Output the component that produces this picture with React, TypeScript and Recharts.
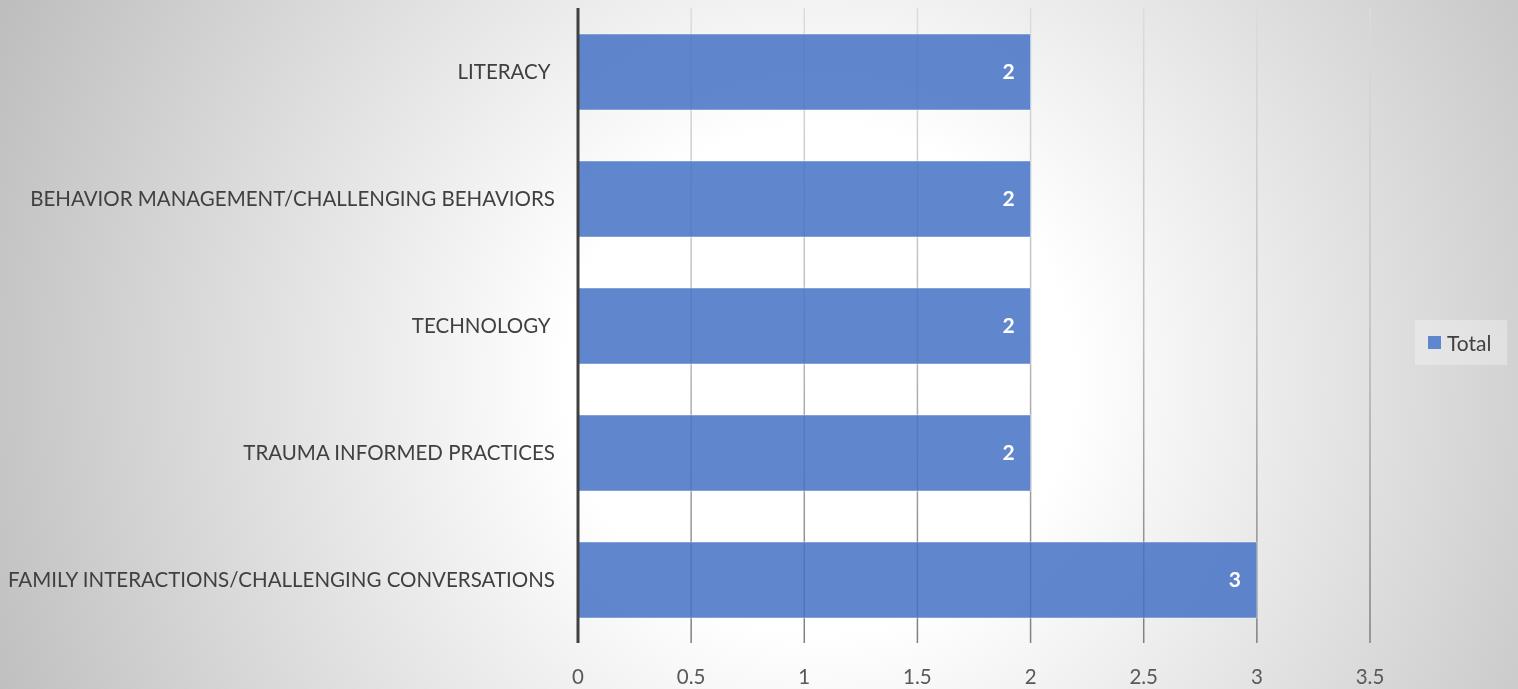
import React from 'react';
import { BarChart, Bar, XAxis, YAxis, CartesianGrid, Legend, LabelList } from 'recharts';

const categories = [
  'LITERACY ',
  'BEHAVIOR MANAGEMENT/CHALLENGING BEHAVIORS',
  'TECHNOLOGY ',
  'TRAUMA INFORMED PRACTICES',
  'FAMILY INTERACTIONS/CHALLENGING CONVERSATIONS',
];
const totals = [2, 2, 2, 2, 3];
const xTicks = [0, 0.5, 1, 1.5, 2, 2.5, 3, 3.5];
const seriesName = 'Total';

const data = categories.map((c, i) => ({ name: c, Total: totals[i] }));

const FONT = 'Lato, "Open Sans", sans-serif';

const YTick = (props: any) => {
  const { x, y, payload } = props;
  return (
    <text x={x} y={y} dy="0.36em" textAnchor="end" fill="#404040" fontSize={20.5} fontFamily={FONT} style={{ whiteSpace: 'pre' }}>
      {payload.value}
    </text>
  );
};

const LegendContent = () => (
  <div
    style={{
      width: 92,
      height: 45,
      background: 'rgba(255,255,255,0.3)',
      display: 'flex',
      alignItems: 'center',
      boxSizing: 'border-box',
      paddingLeft: 13,
      fontFamily: FONT,
      fontSize: 21,
      color: '#404040',
    }}
  >
    <span style={{ display: 'inline-block', width: 13, height: 13, background: '#5f87cd', marginRight: 6 }} />
    <span>{seriesName}</span>
  </div>
);

export default function App() {
  return (
    <div
      style={{
        position: 'fixed',
        left: 0,
        top: 0,
        width: 1518,
        height: 689,
        background: 'radial-gradient(circle farthest-corner at 54% 55%, #ffffff 0%, #ffffff 28%, #bdbdbd 100%)',
      }}
    >
      <svg width={0} height={0} style={{ position: 'absolute' }}>
        <defs>
          <linearGradient id="gridGrad" gradientUnits="userSpaceOnUse" x1={0} y1={8} x2={0} y2={643}>
            <stop offset="0%" stopColor="#dcdcdc" />
            <stop offset="50%" stopColor="#bdbdbd" />
            <stop offset="100%" stopColor="#7f7f7f" />
          </linearGradient>
        </defs>
      </svg>
      <BarChart
        width={1518}
        height={689}
        data={data}
        layout="vertical"
        margin={{ top: 8, right: 148, bottom: 0, left: 0 }}
        barCategoryGap="40%"
      >
        <CartesianGrid horizontal={false} stroke="url(#gridGrad)" strokeWidth={1.5} />
        <XAxis
          type="number"
          domain={[0, 3.5]}
          ticks={xTicks}
          axisLine={false}
          tickLine={false}
          tickMargin={20}
          height={46}
          tick={{ fill: '#595959', fontSize: 20.5, fontFamily: FONT }}
        />
        <YAxis
          type="category"
          dataKey="name"
          width={578}
          axisLine={{ stroke: '#404040', strokeWidth: 3 }}
          tickLine={false}
          tickMargin={17}
          tick={<YTick />}
        />
        <Legend
          layout="horizontal"
          align="center"
          verticalAlign="middle"
          content={<LegendContent />}
          wrapperStyle={{ left: 1415, top: 320, width: 92, height: 45 }}
        />
        <Bar
          dataKey="Total"
          name={seriesName}
          fill="#4472c4"
          fillOpacity={0.85}
          stroke="#ffffff"
          strokeOpacity={0.45}
          barSize={76}
          isAnimationActive={false}
        >
          <LabelList
            dataKey="Total"
            position="insideRight"
            offset={16}
            fill="#ffffff"
            fontSize={21}
            fontWeight="bold"
            fontFamily={FONT}
          />
        </Bar>
      </BarChart>
    </div>
  );
}
